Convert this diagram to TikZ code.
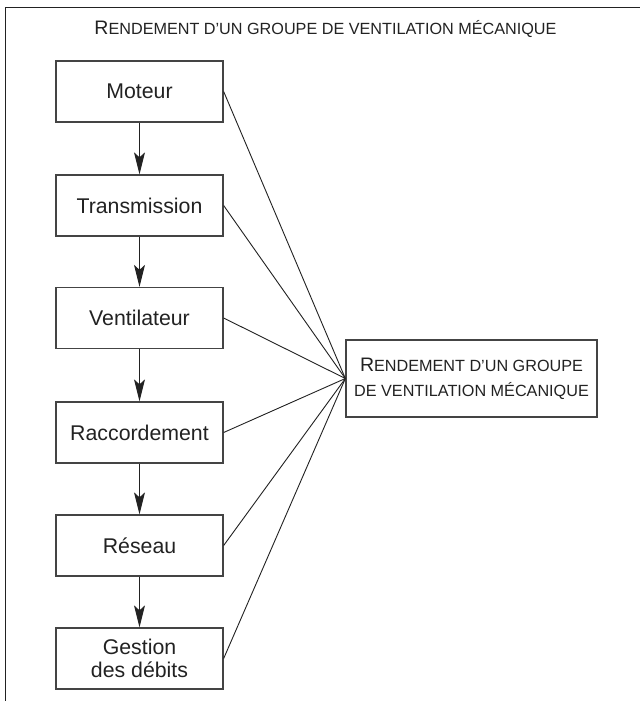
\documentclass[tikz,border=0pt]{standalone}
\usepackage{fontspec}
\setmainfont{Liberation Sans}
\usetikzlibrary{arrows.meta}
\definecolor{ink}{HTML}{222222}
\definecolor{boxline}{HTML}{444444}
\newcommand{\bigR}{\fontsize{19.5}{22}\selectfont}
\newcommand{\smallC}{\fontsize{16.2}{22}\selectfont}
\begin{document}
\begin{tikzpicture}[x=1pt,y=-1pt,
  stepbox/.style={draw=boxline, line width=1.3pt, minimum width=167pt, minimum height=61pt,
    inner sep=0pt, align=center, text=ink, font=\fontsize{21.3}{23}\selectfont},
  resultbox/.style={draw=boxline, line width=1.3pt, minimum width=251pt, minimum height=77pt,
    inner sep=0pt, align=center, text=ink, font=\fontsize{21}{25}\selectfont},
  flow/.style={draw=ink, line width=1pt, -{Stealth[length=22pt, width=11pt, inset=5pt]}},
  link/.style={draw=ink, line width=0.9pt}]
\useasboundingbox (0,0) rectangle (640,701);
\fill[white] (0,0) rectangle (640,701);
% frame
\draw[draw=ink, line width=1.5pt] (5.5,701) -- (5.5,7.3) -- (640,7.3);
% title
\node[anchor=base, inner sep=0pt, text=ink] (title) at (325.5,35)
  {{\bigR R}{\smallC ENDEMENT D’UN GROUPE DE VENTILATION MÉCANIQUE}};
% steps
\node[stepbox] (m) at (139.5,91.5) {Moteur};
\node[stepbox] (t) at (139.5,205.5) {Transmission};
\node[stepbox] (v) at (139.5,318) {Ventilateur};
\node[stepbox] (r) at (139.5,432.5) {Raccordement};
\node[stepbox] (n) at (139.5,545.5) {Réseau};
\node[stepbox] (g) at (139.5,658.5) {Gestion\\des débits};
% result
\node[resultbox] (res) at (471.5,378.5)
  {{\bigR R}{\smallC ENDEMENT D’UN GROUPE}\\{\smallC DE VENTILATION MÉCANIQUE}};
% flow arrows
\draw[flow] (m) -- (t);
\draw[flow] (t) -- (v);
\draw[flow] (v) -- (r);
\draw[flow] (r) -- (n);
\draw[flow] (n) -- (g);
% links
\foreach \b in {m,t,v,r,n,g}
  \draw[link] (\b.east) -- (res.west);
\end{tikzpicture}
\end{document}
